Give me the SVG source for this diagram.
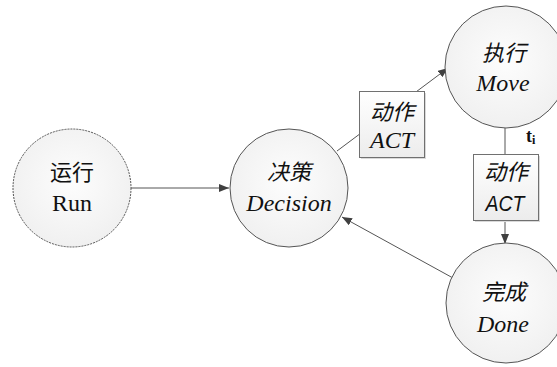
<svg xmlns="http://www.w3.org/2000/svg" width="557" height="367" viewBox="0 0 557 367">
  <defs>
    <radialGradient id="nodeFill" cx="50%" cy="45%" r="60%">
      <stop offset="0" stop-color="#fdfdfd"/>
      <stop offset="1" stop-color="#efefef"/>
    </radialGradient>
    <linearGradient id="boxFill" x1="0" y1="0" x2="0" y2="1">
      <stop offset="0" stop-color="#ffffff"/>
      <stop offset="1" stop-color="#ececec"/>
    </linearGradient>
    <marker id="arrow" markerUnits="userSpaceOnUse" markerWidth="11" markerHeight="8" refX="10" refY="4" orient="auto">
      <path d="M0,0 L10,4 L0,8 Z" fill="#404040"/>
    </marker>
  </defs>
  <style>
    .node { fill: url(#nodeFill); stroke: #555555; stroke-width: 1; }
    .dashed { stroke-dasharray: 2 1; }
    .edge { stroke: #555555; stroke-width: 1; fill: none; }
    .box { fill: url(#boxFill); stroke: #707070; stroke-width: 1; }
    .shadow { fill: #d9d9d9; }
    .cjk { font-family: "Noto Sans CJK SC", sans-serif; font-size: 22px; fill: #111111; text-anchor: middle; }
    .lat { font-family: "Liberation Serif", "Times New Roman", serif; font-size: 24px; fill: #111111; text-anchor: middle; }
    .it { font-style: italic; }
    .sans { font-family: "Liberation Sans", Arial, sans-serif; font-size: 22px; font-style: italic; fill: #111111; text-anchor: middle; }
    .ti { font-family: "Liberation Serif", "Times New Roman", serif; font-weight: bold; fill: #111111; }
  </style>

  <g id="connectors">
    <line class="edge" x1="131" y1="188" x2="229" y2="188" marker-end="url(#arrow)"/>
    <line class="edge" x1="337" y1="151" x2="448" y2="68" marker-end="url(#arrow)"/>
    <line class="edge" x1="505" y1="128" x2="505" y2="244" marker-end="url(#arrow)"/>
    <line class="edge" x1="453" y1="278" x2="342" y2="217" marker-end="url(#arrow)"/>
  </g>

  <g id="node-run">
    <circle class="node dashed" cx="72" cy="188" r="59"/>
    <text class="cjk" x="72" y="180">运行</text>
    <text class="lat" x="72" y="211">Run</text>
  </g>

  <g id="node-decision">
    <circle class="node" cx="289" cy="188" r="59"/>
    <text class="cjk it" x="289" y="180">决策</text>
    <text class="lat it" x="289" y="211">Decision</text>
  </g>

  <g id="node-move">
    <circle class="node" cx="506" cy="67" r="61"/>
    <text class="cjk it" x="504" y="61">执行</text>
    <text class="lat it" x="503" y="91">Move</text>
  </g>

  <g id="node-done">
    <circle class="node" cx="506" cy="303" r="60"/>
    <text class="cjk it" x="504" y="300">完成</text>
    <text class="lat it" x="503" y="332">Done</text>
  </g>

  <g id="label-act-1">
    <rect class="shadow" x="361" y="93" width="65" height="66"/>
    <rect class="box" x="359.5" y="91.5" width="65" height="66"/>
    <text class="cjk it" x="392" y="120">动作</text>
    <text class="lat it" x="392" y="148">ACT</text>
  </g>

  <g id="label-act-2">
    <rect class="shadow" x="475" y="156" width="65" height="66"/>
    <rect class="box" x="473.5" y="154.5" width="65" height="66"/>
    <text class="cjk it" x="506" y="180">动作</text>
    <text class="sans" x="505" y="211" textLength="39" lengthAdjust="spacingAndGlyphs">ACT</text>
  </g>

  <g id="label-ti">
    <text class="ti" x="526" y="142" font-size="18">t<tspan font-size="12" dy="2">i</tspan></text>
  </g>
</svg>
